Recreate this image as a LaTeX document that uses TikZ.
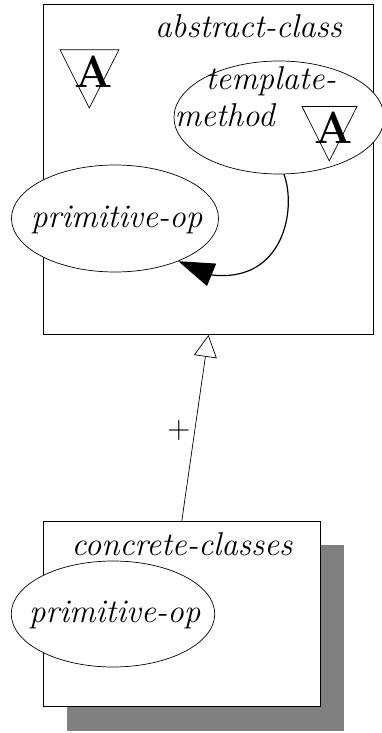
\documentclass[tikz,border=0pt]{standalone}
\usetikzlibrary{shapes.geometric,arrows.meta}
\tikzset{
  classbox/.style={draw=black,fill=white,line width=0.8pt,inner sep=0pt},
  opell/.style={draw=black,fill=white,line width=0.7pt,inner sep=0pt,ellipse},
  lbl/.style={font=\fontsize{33}{36}\selectfont\itshape,inner sep=0pt,anchor=base west},
  tri/.style={draw=black,line width=0.7pt},
  biga/.style={font=\fontsize{45}{48}\selectfont\bfseries,inner sep=0pt,anchor=base west},
}
\begin{document}
\begin{tikzpicture}[x=1pt,y=-1pt]
\useasboundingbox (0,0) rectangle (382,733);
\node[fill=black!50,minimum width=277pt,minimum height=186pt,inner sep=0pt] (shadow) at (205.5,638) {};
\node[classbox,minimum width=276.5pt,minimum height=185pt] (cc) at (181.75,614.2) {};
\node[classbox,minimum width=330pt,minimum height=330pt] (ac) at (208.5,169.5) {};
\node[lbl] (acl) at (155,38) {abstract-class};
\node[lbl] (ccl) at (71.5,555) {concrete-classes};
\node[opell,minimum width=210pt,minimum height=113pt] (tm) at (279,117.5) {};
\node[lbl] (tm1) at (205.5,90) {template-};
\node[lbl] (tm2) at (174.5,127) {method};
\node[opell,minimum width=207pt,minimum height=107pt] (po) at (115,218.5) {};
\node[lbl] (pol) at (31,227) {primitive-op};
\node[opell,minimum width=203.5pt,minimum height=106pt] (po2) at (113,614) {};
\node[lbl] (po2l) at (29,622.7) {primitive-op};
\draw[tri] (60,49.7) -- (119,49.7) -- (89.3,108) -- cycle;
\draw[tri] (302,106.5) -- (357,106.5) -- (329.3,161) -- cycle;
\node[biga] (A1) at (74,87.5) {A};
\node[biga] (A2) at (314,143.5) {A};
\draw[line width=1.2pt,-{Triangle[length=36pt,width=24pt]}] (tm.-85) .. controls (297,210) and (283,283) .. (212,275) -- (po.-34);
\draw[line width=0.7pt,-{Triangle[open,fill=white,length=22pt,width=23pt]}] (cc.north) -- (ac.south);
\node[font=\fontsize{32}{36}\selectfont,inner sep=0pt] (plus) at (179,431) {+};
\end{tikzpicture}
\end{document}
